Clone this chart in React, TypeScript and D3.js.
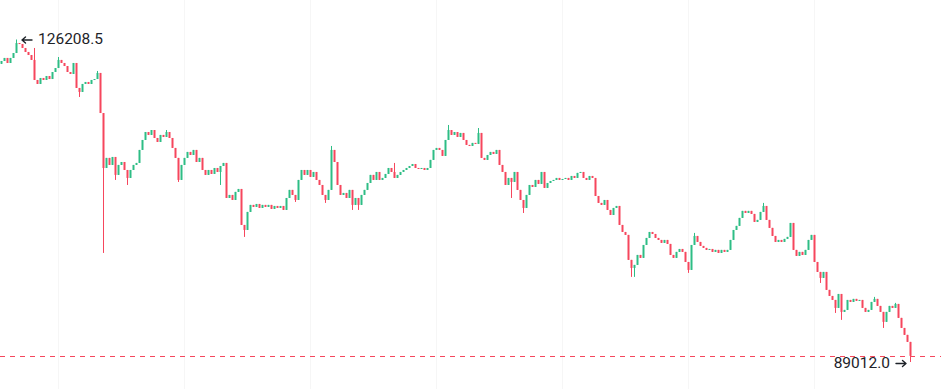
import * as d3 from "d3";

// precio de apertura de la primera vela
const firstOpen = 123400;

// cierres, una vela por valor
const closes = [
  123730, 124080, 123500, 124080, 124650, 125800, 125690, 125230, 124770, 124420,
  123850, 121540, 121080, 121770, 121540, 122000, 121650, 122460, 122920, 123850,
  123500, 123150, 122460, 122230, 123500, 120620, 120160, 121080, 121310, 121080,
  121540, 121650, 122350, 117730, 111390, 112550, 111740, 112660, 110590, 111740,
  112080, 111160, 110240, 111160, 111740, 111970, 113470, 114620, 115540, 115200,
  115770, 114850, 114390, 115200, 114970, 115540, 114850, 113700, 112550, 110010,
  111740, 112550, 113240, 112890, 113470, 112080, 112550, 111160, 110590, 111160,
  110700, 111390, 110930, 111620, 111970, 107930, 108280, 107700, 108630, 108970,
  104820, 104240, 106320, 107130, 106900, 107240, 106780, 107130, 106900, 107130,
  106670, 107010, 106780, 107010, 106550, 107930, 108860, 108280, 107700, 110010,
  111160, 110590, 111160, 110360, 110930, 110010, 109430, 108280, 107700, 108860,
  113470, 112080, 109430, 108280, 108510, 107930, 108860, 107130, 107930, 107130,
  108280, 108860, 109660, 110590, 110010, 110930, 110010, 110240, 110700, 111390,
  110930, 110240, 110590, 110930, 111160, 111390, 111620, 111850, 111390, 111280,
  111390, 111160, 111390, 112320, 113470, 113700, 113470, 112780, 114620, 115770,
  115200, 115540, 114970, 115430, 114620, 114050, 113930, 114280, 114160, 115430,
  112550, 112320, 112890, 113240, 113010, 113470, 111740, 110930, 109430, 110240,
  109780, 110930, 108860, 107700, 106780, 108280, 109430, 109200, 110010, 109550,
  110930, 109090, 109660, 109890, 110010, 110240, 110010, 110120, 110240, 110010,
  110470, 110240, 110820, 110930, 110240, 110010, 110470, 110240, 108160, 107360,
  107130, 107700, 106550, 105970, 106780, 107010, 104820, 104010, 103670, 100790,
  99860, 100210, 101360, 101020, 102510, 103320, 104010, 103780, 103320, 103090,
  102750, 103090, 102630, 101360, 101020, 101710, 102050, 101710, 100550, 99630,
  102510, 103550, 102860, 102400, 102170, 101940, 102050, 101710, 101940, 101590,
  101940, 101710, 101940, 103090, 104240, 104710, 105630, 106440, 106200, 106440,
  106090, 105170, 105400, 106320, 107010, 105400, 104480, 103550, 102860, 103090,
  102860, 103210, 103440, 105050, 101940, 101250, 101710, 101360, 101940, 103090,
  103670, 100550, 99400, 98710, 99400, 97330, 96630, 96170, 95250, 96860,
  94790, 95020, 96170, 95940, 96290, 96060, 96170, 95250, 94790, 95020,
  95940, 96290, 95480, 94790, 93640, 94790, 95480, 95250, 95710, 94100,
  92940, 92140, 91330, 89720,
];

// mechas visibles: [indice, maximo]
const highWicks = [
  [5, 126208.5], [11, 125230], [19, 124190], [32, 122580], [55, 115770],
  [110, 113930], [131, 111970], [149, 116350], [159, 116000], [231, 103900],
  [254, 107360], [291, 96520], [298, 95830],
];

// mechas visibles: [indice, minimo]
const lowWicks = [
  [26, 119580], [34, 101590], [38, 110010], [42, 109430], [59, 109780],
  [73, 109430], [81, 103440], [98, 107470], [108, 107360], [117, 106550],
  [119, 106550], [170, 107930], [174, 106200], [210, 98830], [211, 98830],
  [229, 99290], [273, 98130], [278, 94670], [280, 93870], [294, 92940],
  [303, 89012.0],
];

// lineas verticales tenues (indices de vela)
const gridIdx = [19, 61, 103, 145, 187, 229, 271];

const W = 941;
const H = 389;
const UP = "#2ebd85";
const DOWN = "#f6465d";
const INK = "#1e2329";

const App = () => {
  const hiMap = new Map(highWicks.map((d) => [d[0], d[1]]));
  const loMap = new Map(lowWicks.map((d) => [d[0], d[1]]));

  const candles = closes.map((c, i) => {
    const o = i === 0 ? firstOpen : closes[i - 1];
    const h = Math.max(o, c, hiMap.get(i) ?? -Infinity);
    const l = Math.min(o, c, loMap.get(i) ?? Infinity);
    return { i, o, h, l, c };
  });

  const maxH = d3.max(candles, (d) => d.h)!;
  const minL = d3.min(candles, (d) => d.l)!;
  const maxIdx = candles.findIndex((d) => d.h === maxH);
  const minIdx = candles.findIndex((d) => d.l === minL);

  const x = d3.scaleLinear().domain([0, closes.length - 1]).range([1, 910]);
  const y = d3.scaleLinear().domain([minL, maxH]).range([362, 39.5]);

  const last = closes[closes.length - 1];
  const lastY = Math.round(y(last)) + 0.5;

  // flechas de las etiquetas de max / min
  const hx = x(maxIdx);
  const hy = y(maxH) + 0.5;
  const lx = x(minIdx);
  const ly = y(minL) + 1.5;

  return (
    <div style={{ position: "absolute", left: 0, top: 0 }}>
      <svg width={W} height={H} style={{ display: "block", background: "#fff" }}>
        {gridIdx.map((g) => (
          <line
            key={g}
            x1={Math.round(x(g)) + 0.5}
            x2={Math.round(x(g)) + 0.5}
            y1={0}
            y2={H}
            stroke="#f6f6f6"
          />
        ))}
        {candles.map((d) => {
          const col = d.c >= d.o ? UP : DOWN;
          const cx = Math.round(x(d.i));
          const top = y(Math.max(d.o, d.c));
          const bot = y(Math.min(d.o, d.c));
          return (
            <g key={d.i}>
              <line x1={cx + 0.5} x2={cx + 0.5} y1={y(d.h)} y2={y(d.l)} stroke={col} strokeWidth={1} />
              <rect x={cx - 0.5} y={top} width={2} height={Math.max(1, bot - top)} fill={col} />
            </g>
          );
        })}
        <line x1={0} x2={W} y1={lastY} y2={lastY} stroke={DOWN} strokeDasharray="5 5" strokeWidth={1} />
        <g stroke={INK} strokeWidth={1.4} fill="none" strokeLinecap="round" strokeLinejoin="round">
          <path d={`M${hx + 6},${hy} L${hx + 16},${hy} M${hx + 9.5},${hy - 3} L${hx + 6},${hy} L${hx + 9.5},${hy + 3}`} />
          <path d={`M${lx - 14},${ly} L${lx - 4},${ly} M${lx - 7.5},${ly - 3} L${lx - 4},${ly} L${lx - 7.5},${ly + 3}`} />
        </g>
        <g fontFamily="Roboto, 'Noto Sans', sans-serif" fill={INK} fontSize={15.5}>
          <text x={hx + 22} y={y(maxH) + 4.5}>{maxH.toFixed(1)}</text>
          <text x={lx - 20} y={y(minL) + 5.5} textAnchor="end">{minL.toFixed(1)}</text>
        </g>
      </svg>
    </div>
  );
};

export default App;
